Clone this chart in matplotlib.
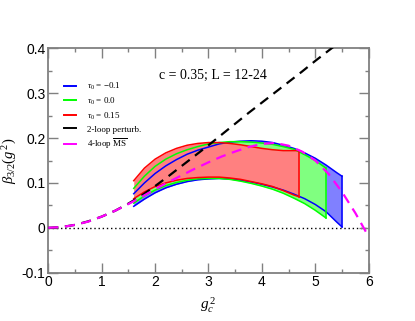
import matplotlib
matplotlib.use("Agg")
import matplotlib.pyplot as plt
from matplotlib.ticker import MultipleLocator

plt.rcParams['font.family'] = ['Liberation Sans', 'DejaVu Sans']
plt.rcParams['mathtext.fontset'] = 'custom'
plt.rcParams['mathtext.rm'] = 'Liberation Serif'
plt.rcParams['mathtext.it'] = 'Liberation Serif:italic'
plt.rcParams['mathtext.bf'] = 'Liberation Serif:bold'

# ---- data ----
x_red = [1.6, 1.8, 2.0, 2.2, 2.4, 2.6, 2.8, 3.0, 3.2, 3.4, 3.6, 3.8, 4.0, 4.2, 4.4, 4.6, 4.7]
red_up = [0.105, 0.133, 0.153, 0.167, 0.177, 0.184, 0.188, 0.190, 0.190, 0.188, 0.185,
          0.181, 0.177, 0.174, 0.172, 0.172, 0.172]
red_lo = [0.065, 0.080, 0.092, 0.100, 0.106, 0.110, 0.112, 0.113, 0.113, 0.111, 0.108,
          0.103, 0.098, 0.092, 0.083, 0.073, 0.069]

x_green = [1.6, 1.8, 2.0, 2.2, 2.4, 2.6, 2.8, 3.0, 3.2, 3.4, 3.6, 3.8, 4.0, 4.2, 4.4,
           4.6, 4.8, 5.0, 5.2]
green_up = [0.088, 0.115, 0.137, 0.153, 0.165, 0.174, 0.181, 0.187, 0.190, 0.192, 0.192,
            0.191, 0.189, 0.186, 0.181, 0.175, 0.163, 0.150, 0.133]
green_lo = [0.055, 0.071, 0.084, 0.094, 0.101, 0.106, 0.109, 0.110, 0.110, 0.108, 0.104,
            0.099, 0.093, 0.086, 0.077, 0.066, 0.054, 0.039, 0.022]

x_blue = [1.6, 1.8, 2.0, 2.2, 2.4, 2.6, 2.8, 3.0, 3.2, 3.4, 3.6, 3.8, 4.0, 4.2, 4.4,
          4.6, 4.8, 5.0, 5.2, 5.4, 5.5]
blue_up = [0.076, 0.100, 0.121, 0.138, 0.152, 0.164, 0.173, 0.180, 0.187, 0.191, 0.193,
           0.194, 0.193, 0.190, 0.184, 0.177, 0.167, 0.155, 0.140, 0.123, 0.115]
blue_lo = [0.048, 0.064, 0.078, 0.089, 0.097, 0.103, 0.107, 0.109, 0.110, 0.109, 0.106,
           0.102, 0.097, 0.091, 0.084, 0.075, 0.065, 0.052, 0.036, 0.013, 0.002]

x_2loop = [0, 0.25, 0.5, 0.75, 1.0, 1.25, 1.5, 1.75, 2.0, 2.25, 2.5, 2.75, 3.0, 3.25,
           3.5, 3.75, 4.0, 4.25, 4.5, 4.75, 5.0, 5.25, 5.35]
y_2loop = [0, 0.0017, 0.0066, 0.0145, 0.025, 0.038, 0.054, 0.072, 0.093, 0.115, 0.138,
           0.161, 0.184, 0.208, 0.232, 0.256, 0.279, 0.302, 0.325, 0.348, 0.372, 0.395, 0.404]

x_4loop = [0, 0.25, 0.5, 0.75, 1.0, 1.25, 1.5, 1.75, 2.0, 2.25, 2.5, 2.75, 3.0, 3.25,
           3.5, 3.75, 4.0, 4.25, 4.5, 4.75, 5.0, 5.25, 5.5, 5.75, 6.0]
y_4loop = [0, 0.0017, 0.0065, 0.014, 0.025, 0.038, 0.053, 0.069, 0.086, 0.102, 0.117,
           0.132, 0.146, 0.159, 0.170, 0.180, 0.187, 0.189, 0.183, 0.170, 0.150, 0.120,
           0.080, 0.033, -0.020]

labels = [r'$\tau_0$ = $-$0.1', r'$\tau_0$ = 0.0', r'$\tau_0$ = 0.15',
          '2-loop perturb.', r'4-loop $\overline{\rm MS}$']
annotation = 'c = 0.35; L = 12-24'

# ---- figure ----
fig = plt.figure(figsize=(4.15, 3.21), dpi=100)
ax = fig.add_axes([0.1164, 0.1505, 0.772, 0.699])

ax.plot([0, 6], [0, 0], color='black', lw=1.0, ls=(0, (1, 2)), zorder=1)

ax.fill_between(x_blue, blue_lo, blue_up, color='#8080ff', lw=0, zorder=2)
ax.fill_between(x_green, green_lo, green_up, color='#80ff80', lw=0, zorder=3)
ax.fill_between(x_red, red_lo, red_up, color='#ff8080', lw=0, zorder=4)

for xs, up, lo, c, lab in [(x_blue, blue_up, blue_lo, '#0000ff', labels[0]),
                           (x_green, green_up, green_lo, '#00ff00', labels[1]),
                           (x_red, red_up, red_lo, '#ff0000', labels[2])]:
    ax.plot(xs, up, color=c, lw=1.1, zorder=5, label=lab)
    ax.plot(xs, lo, color=c, lw=1.1, zorder=5)
    ax.plot([xs[-1], xs[-1]], [lo[-1], up[-1]], color=c, lw=1.1, zorder=5)

ax.plot(x_2loop, y_2loop, color='black', lw=1.6, ls=(0, (4.5, 3)), zorder=6,
        label=labels[3])
ax.plot(x_4loop, y_4loop, color='#ff00ff', lw=1.6, ls=(0, (4.5, 3)), zorder=6,
        label=labels[4])

ax.set_xlim(0, 6)
ax.set_ylim(-0.1, 0.4)
ax.xaxis.set_minor_locator(MultipleLocator(0.5))
ax.yaxis.set_minor_locator(MultipleLocator(0.05))
ax.set_yticks([-0.1, 0, 0.1, 0.2, 0.3, 0.4])
ax.set_yticklabels(['-0.1', '0', '0.1', '0.2', '0.3', '0.4'])
ax.set_xticks([0, 1, 2, 3, 4, 5, 6])
ax.set_xticklabels(['0', '1', '2', '3', '4', '5', '6'])

for s in ax.spines.values():
    s.set_color('#808080')
    s.set_linewidth(1.3)
ax.tick_params(which='both', direction='in', top=True, right=True, colors='#808080',
               labelcolor='black', labelsize=10, width=1.0)
ax.tick_params(which='major', length=7, pad=2)
ax.tick_params(which='minor', length=3)

ax.set_xlabel(r'$g_c^{\,2}$', fontsize=11)
ax.xaxis.set_label_coords(0.5, -0.1)
ax.set_ylabel(r'$\beta_{3/2}(g^{\,2})$', fontsize=10.5)
ax.yaxis.set_label_coords(-0.09, 0.5)

ax.text(0.515, 0.877, annotation, transform=ax.transAxes, ha='center', va='center',
        fontsize=10, family='Liberation Serif')

leg = ax.legend(loc='upper left', bbox_to_anchor=(0.05, 0.855), frameon=False,
                handlelength=1.3, handletextpad=1.2, labelspacing=0.4,
                borderpad=0, borderaxespad=0, prop={'family': 'Liberation Serif', 'size': 6.5})
for line in leg.get_lines():
    line.set_linestyle('-')
    line.set_linewidth(1.4)

fig.savefig('out.png', dpi=100)
